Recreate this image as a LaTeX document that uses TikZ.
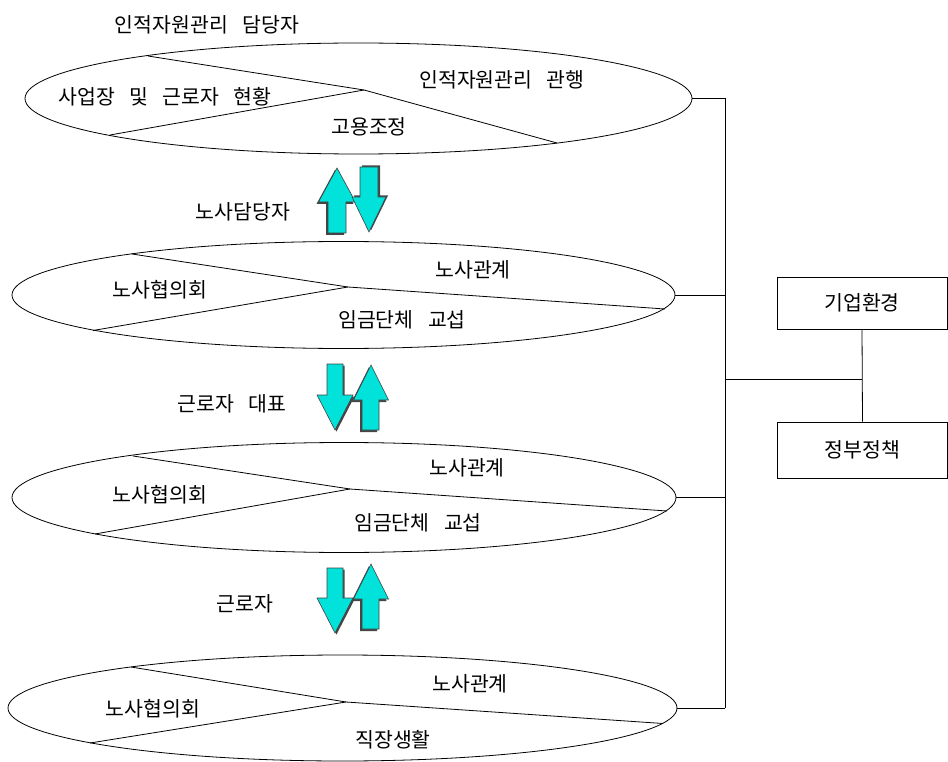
\documentclass[tikz,border=0pt]{standalone}
\usepackage{fontspec}
\setmainfont{Noto Sans CJK KR}
\usetikzlibrary{shapes.geometric}
\definecolor{arrowcyan}{RGB}{0,226,218}
\definecolor{shadowgray}{RGB}{70,70,70}
\newcommand\gap{\hspace{0.7em}}
\newcommand\cyanarrow[2]{\fill[shad,shift={#1}] #2; \filldraw[arr] #2;}
\begin{document}
\begin{tikzpicture}[x=1pt,y=-1pt,
  oval/.style={draw, ellipse, inner sep=0pt, line width=0.8pt},
  lbl/.style={inner sep=0pt, font=\fontsize{20.5}{23}\selectfont},
  chord/.style={line width=0.8pt},
  wire/.style={line width=0.8pt},
  box/.style={draw, line width=0.9pt, minimum width=170pt, inner sep=0pt, font=\fontsize{20.5}{23}\selectfont},
  arr/.style={fill=arrowcyan, draw=black!75, line width=0.6pt, line join=miter},
  shad/.style={fill=shadowgray, draw=none}]
\useasboundingbox (0,0) rectangle (948,762);

% ellipses
\node[oval, minimum width=667pt, minimum height=111pt] (e1) at (358.5,98.5) {};
\node[oval, minimum width=663pt, minimum height=107pt] (e2) at (343.5,295) {};
\node[oval, minimum width=664pt, minimum height=110pt] (e3) at (344,497.5) {};
\node[oval, minimum width=669pt, minimum height=106pt] (e4) at (342.5,708) {};

% chord points
\coordinate (e1tl) at (148,56);  \coordinate (e1j) at (364,90);
\coordinate (e1bl) at (110,135); \coordinate (e1r) at (557,143);
\coordinate (e2tl) at (132,254); \coordinate (e2j) at (348,287);
\coordinate (e2bl) at (93,330.5); \coordinate (e2r) at (665,309);
\coordinate (e3tl) at (133,456); \coordinate (e3j) at (350,489);
\coordinate (e3bl) at (95,534);  \coordinate (e3r) at (667,511);
\coordinate (e4tl) at (131,667); \coordinate (e4j) at (346,702);
\coordinate (e4bl) at (90,743);  \coordinate (e4r) at (663,723.5);

\foreach \e in {e1,e2,e3,e4}{
  \draw[chord] (\e tl) -- (\e j) -- (\e r);
  \draw[chord] (\e bl) -- (\e j);
}

% texts
\node[lbl] (t0) at (207,25) {인적자원관리\gap 담당자};
\node[lbl] (t1a) at (165,97) {사업장\gap 및\gap 근로자\gap 현황};
\node[lbl] (t1b) at (502,80) {인적자원관리\gap 관행};
\node[lbl] (t1c) at (369,127) {고용조정};
\node[lbl] (t2a) at (160,290) {노사협의회};
\node[lbl] (t2b) at (473,270) {노사관계};
\node[lbl] (t2c) at (402,320) {임금단체\gap 교섭};
\node[lbl] (t3a) at (160,495) {노사협의회};
\node[lbl] (t3b) at (467,468) {노사관계};
\node[lbl] (t3c) at (418,523) {임금단체\gap 교섭};
\node[lbl] (t4a) at (153,709) {노사협의회};
\node[lbl] (t4b) at (470,684) {노사관계};
\node[lbl] (t4c) at (393,740) {직장생활};
\node[lbl] (l1) at (243,212) {노사담당자};
\node[lbl] (l2) at (232,404) {근로자\gap 대표};
\node[lbl] (l3) at (245,604) {근로자};

% arrows pair 1
\cyanarrow{(-2,2)}{(337,168) -- (355.5,202) -- (346,202) -- (346,233) -- (328,233) -- (328,202) -- (318.5,202) -- cycle}
\cyanarrow{(2,-1.5)}{(360,167) -- (378,167) -- (378,197) -- (386,197) -- (369,232) -- (352,197) -- (360,197) -- cycle}
% pair 2
\cyanarrow{(1.5,1.5)}{(327,364) -- (343,364) -- (343,395) -- (353,395) -- (335,430) -- (317,395) -- (327,395) -- cycle}
\cyanarrow{(-2,2)}{(371,365) -- (388.5,400) -- (379,400) -- (379,430) -- (362,430) -- (362,400) -- (353.5,400) -- cycle}
% pair 3
\cyanarrow{(1.5,1.5)}{(327,568) -- (343,568) -- (343,598) -- (353,598) -- (335,633) -- (317,598) -- (327,598) -- cycle}
\cyanarrow{(-2,2)}{(371,564) -- (388.5,599) -- (379,599) -- (379,629) -- (362,629) -- (362,599) -- (353.5,599) -- cycle}

% boxes
\node[box, minimum height=52pt] (b1) at (862,303) {기업환경};
\node[box, minimum height=56pt] (b2) at (862.5,450) {정부정책};

% wiring
\coordinate (busx) at (725,0);
\coordinate (jn) at (862,379);
\draw[wire] (e1.east) -- (e1.east -| busx);
\draw[wire] (e2.east) -- (e2.east -| busx);
\draw[wire] (e3.east) -- (e3.east -| busx);
\draw[wire] (e4.east) -- (e4.east -| busx);
\draw[wire] (e1.east -| busx) -- (e4.east -| busx);
\draw[wire] (jn -| busx) -- (jn);
\draw[wire] (b1.south) -- (b2.north);
\end{tikzpicture}
\end{document}
